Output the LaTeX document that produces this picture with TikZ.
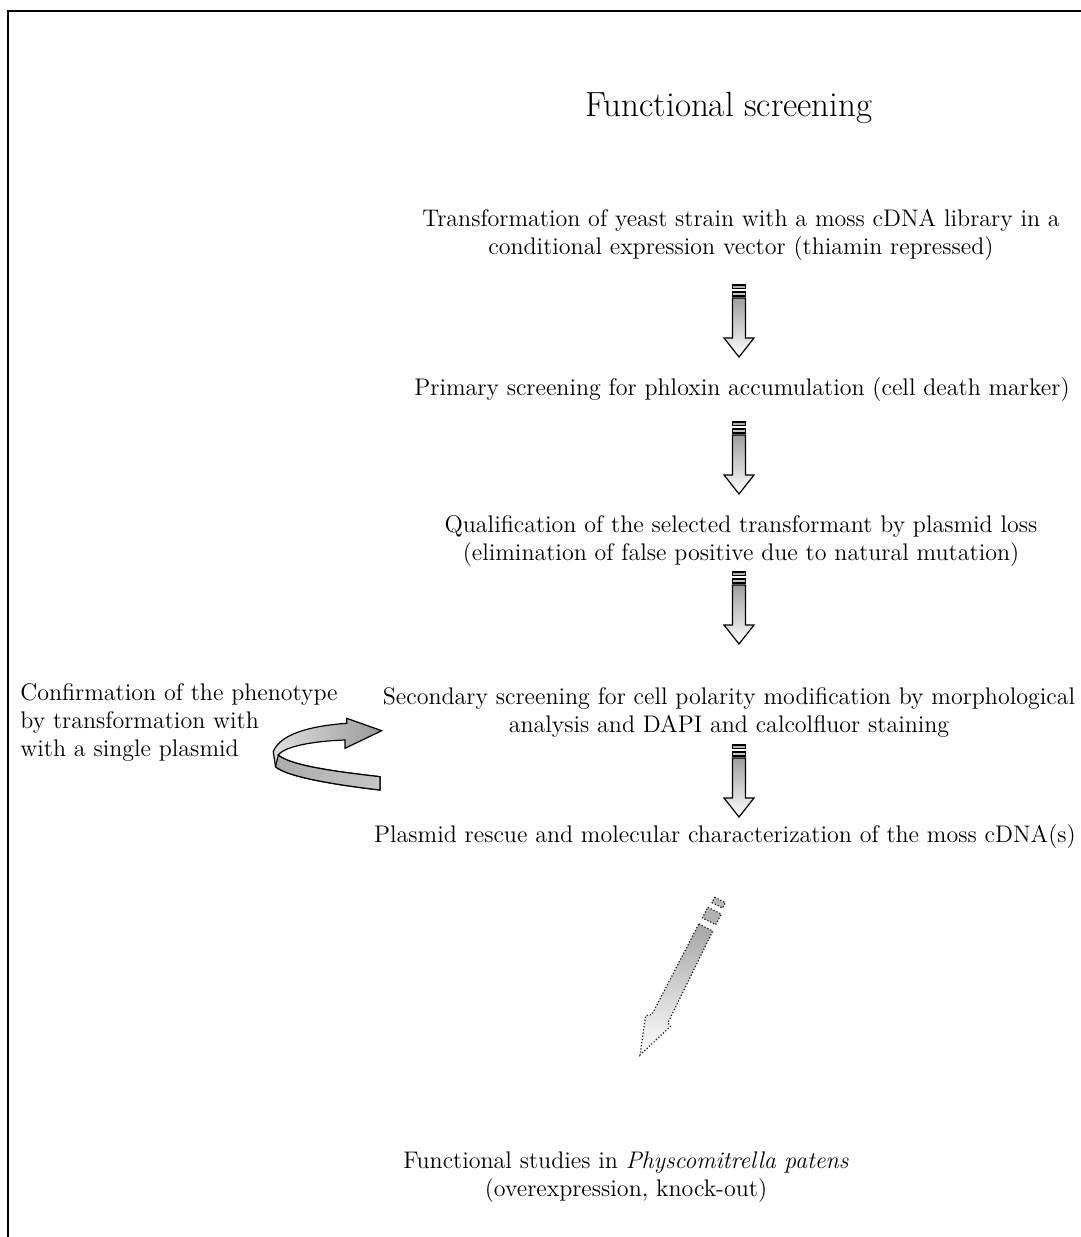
\documentclass[tikz,border=0pt]{standalone}
\usepackage{tikz}
\usetikzlibrary{arrows.meta,positioning}

\tikzset{
  blockdown/.pic={
    \draw[line width=0.6pt,fill=gray!60] (-6.5,0) rectangle (6.5,3.5);
    \draw[line width=0.6pt,fill=gray!45] (-6.5,7) rectangle (6.5,11);
    \draw[line width=0.6pt,top color=gray!75,bottom color=white]
      (-6.5,13) -- (6.5,13) -- (6.5,53) -- (15,53) -- (0,72) -- (-15,53) -- (-6.5,53) -- cycle;
  }
}

\begin{document}
\begin{tikzpicture}[
  x=0.5pt,y=-0.5pt,
  txt/.style={align=center,inner sep=0pt,font=\fontsize{12}{14}\selectfont},
  note/.style={align=left,inner sep=0pt,anchor=west,font=\fontsize{12}{14}\selectfont},
  ttl/.style={inner sep=0pt,font=\fontsize{17.5}{20}\selectfont},
  ribbon/.style={draw,line width=0.6pt,left color=gray!25,right color=gray!80},
  pencil/.style={draw=gray!20!black,densely dotted,line width=0.6pt}
]
\useasboundingbox (0,0) rectangle (1081,1237);
\draw[line width=1pt] (8,1237) -- (8,11) -- (1081,11);

\node[ttl] (title) at (729,108) {Functional screening};
\node[txt] (transf) at (741,235) {Transformation of yeast strain with a moss cDNA library in a\\conditional expression vector (thiamin repressed)};
\node[txt] (primary) at (742,390) {Primary screening for phloxin accumulation (cell death marker)};
\node[txt] (qualif) at (741,541.5) {Qualification of the selected transformant by plasmid loss\\(elimination of false positive due to natural mutation)};
\node[txt] (second) at (729,713) {Secondary screening for cell polarity modification by morphological\\analysis and DAPI and calcolfluor staining};
\node[note] (confirm) at (20,722.5) {Confirmation of the phenotype\\by transformation with\\with a single plasmid};
\node[txt] (rescue) at (725,836) {Plasmid rescue and molecular characterization of the moss cDNA(s)};
\node[txt] (studies) at (626,1177) {Functional studies in \textit{Physcomitrella patens}\\(overexpression, knock-out)};

\coordinate (a1) at (739,285);
\coordinate (a2) at (739,422);
\coordinate (a3) at (739,572);
\coordinate (a4) at (739,745);
\pic at (a1) {blockdown};
\pic at (a2) {blockdown};
\pic at (a3) {blockdown};
\pic at (a4) {blockdown};

\path[ribbon] (346.7,723.3) .. controls (310,726) and (280,734) .. (273.3,751.7)
  -- (275.5,766.7) .. controls (285,775) and (320,783) .. (380,790) -- (380,776.7)
  .. controls (330,771) and (290,765) .. (278.3,755)
  .. controls (285,746) and (315,741) .. (345,740)
  -- (345,748.3) -- (381.7,730.7) -- (346.7,718.3) -- cycle;
\path[draw,line width=0.6pt,left color=gray!65,right color=gray!45] (278.3,755) -- (275.5,766.7)
  .. controls (285,775) and (320,783) .. (380,790) -- (380,776.7)
  .. controls (330,771) and (290,765) .. (278.3,755) -- cycle;

\begin{scope}[shift={(705.8,927.5)},rotate=-27.3]
  \path[pencil,fill=gray!55] (-6,-31) -- (6,-31) -- (6,-25) -- (-6,-25) -- cycle;
  \path[pencil,fill=gray!60] (-7.5,-19) -- (7.5,-19) -- (7.5,-7) -- (-7.5,-7) -- cycle;
  \path[pencil,top color=gray!70,bottom color=white]
    (-7.8,0) -- (7.8,0) -- (10,102) -- (14,104) -- (0,143.5) -- (-13,106) -- (-8,102) -- cycle;
\end{scope}
\end{tikzpicture}
\end{document}
